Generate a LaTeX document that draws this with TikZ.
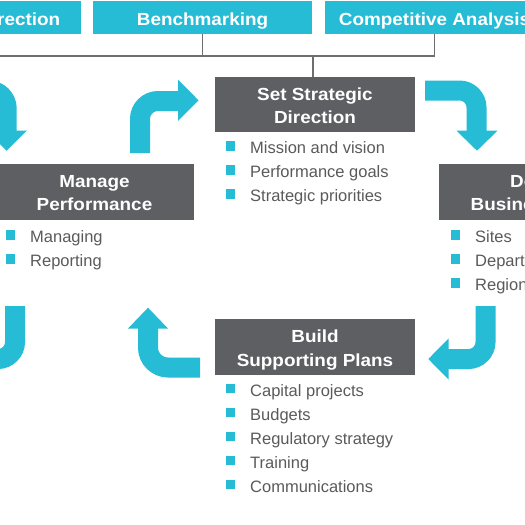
\documentclass[tikz,border=0pt]{standalone}
\usepackage{fontspec}
\setmainfont{Liberation Sans}
\newfontfamily\tbold{Liberation Sans}[FakeStretch=1.08]
\definecolor{cyanA}{HTML}{26BCD6}
\definecolor{boxgray}{HTML}{5E5F63}
\definecolor{textgray}{HTML}{5A5A5A}
\definecolor{linegray}{HTML}{6E6E6E}
\newcommand\ttlfont{\tbold\bfseries\fontsize{17.5}{21}\selectfont}
\newcommand\itmfont{\fontsize{16.5}{20}\selectfont}
\tikzset{
  topbox/.style={fill=cyanA, minimum width=219, minimum height=33, inner sep=0pt,
    text height=15pt, text depth=0pt, font=\ttlfont, text=white},
  gbox/.style={fill=boxgray, minimum width=200, minimum height=55.5, inner sep=0pt},
  ttl/.style={anchor=base, inner sep=0pt, font=\ttlfont, text=white},
  sq/.style={fill=cyanA, minimum size=9.5, inner sep=0pt},
  itm/.style={anchor=base west, inner sep=0pt, text=textgray, font=\itmfont},
  conn/.style={draw=linegray, line width=1.5pt},
  band/.style={draw=cyanA, line width=20pt},
  head/.style={fill=cyanA}
}
\newcommand\bul[4]{\node[sq] (#1b) at (#2-19.5,#3-7.5) {}; \node[itm] (#1) at (#2,#3) {#4};}
\begin{document}
\begin{tikzpicture}[x=1pt,y=-1pt]
\useasboundingbox (0,0) rectangle (525,525);
\clip (0,0) rectangle (525,525);
% top input boxes
\node[topbox] (dir) at (-28.5,17.5) {Corporate Direction};
\node[topbox] (bench) at (202.5,17.5) {Benchmarking};
\node[topbox] (cmp) at (434.5,17.5) {Competitive Analysis};
% gray process boxes
\node[gbox] (ssd) at (315,104.5) {};
\node[gbox] (mp) at (94,192) {};
\node[gbox] (dbu) at (539,192) {};
\node[gbox] (bsp) at (315,347) {};
% connectors
\coordinate (bus) at (313,56);
\draw[conn] (dir.south) |- (bus) -| (cmp.south);
\draw[conn] (bench.south) -- (bench.south |- bus);
\draw[conn] (bus) -- (bus |- ssd.north);
% titles
\node[ttl] (ssd1) at (315,100.7) {Set Strategic};
\node[ttl] (ssd2) at (315,123.3) {Direction};
\node[ttl] (mp1) at (94.5,187.3) {Manage};
\node[ttl] (mp2) at (94.5,210) {Performance};
\node[ttl] (dbu1) at (539,187.3) {Define};
\node[ttl] (dbu2) at (539,210) {Business Units};
\node[ttl] (bsp1) at (315,342.7) {Build};
\node[ttl] (bsp2) at (315,366) {Supporting Plans};
% bullets
\bul{s1}{250}{153.5}{Mission and vision}
\bul{s2}{250}{177.5}{Performance goals}
\bul{s3}{250}{201.5}{Strategic priorities}
\bul{m1}{30}{242.5}{Managing}
\bul{m2}{30}{266.5}{Reporting}
\bul{d1}{475}{242.5}{Sites}
\bul{d2}{475}{266.5}{Departments}
\bul{d3}{475}{290.5}{Regions}
\bul{b1}{250}{396}{Capital projects}
\bul{b2}{250}{420}{Budgets}
\bul{b3}{250}{444}{Regulatory strategy}
\bul{b4}{250}{468}{Training}
\bul{b5}{250}{492}{Communications}
% block arrows
% arrow 1 (top left, cut)
\draw[band, rounded corners=18pt] (-60,90.5) -- (6.7,90.5) -- (6.7,131.5);
\fill[head] (-13.5,130.5) -- (27,130.5) -- (6.7,150.7) -- cycle;
% arrow 2 (manage -> set strategic)
\draw[band, rounded corners=18pt] (140,153) -- (140,101) -- (179,101);
\fill[head] (178,79.5) -- (198.5,100.3) -- (178,121) -- cycle;
% arrow 3 (set strategic -> define)
\draw[band, rounded corners=17pt] (425,90.5) -- (476.5,90.5) -- (476.5,131.5);
\fill[head] (456.5,130.7) -- (497.5,130.7) -- (477,150.7) -- cycle;
% arrow 4 (define -> build)
\draw[band, rounded corners=17pt] (485.5,306) -- (485.5,359) -- (447.5,359);
\fill[head] (448.5,338.5) -- (428.3,359) -- (448.5,379.5) -- cycle;
% arrow 5 (build -> manage)
\draw[band, rounded corners=20pt] (200,367.5) -- (148,367.5) -- (148,327.5);
\fill[head] (128,328.5) -- (148,307.7) -- (168,328.5) -- cycle;
% arrow 6 (bottom left, cut)
\draw[band, rounded corners=17pt] (15,306) -- (15,359) -- (-60,359);
\end{tikzpicture}
\end{document}
